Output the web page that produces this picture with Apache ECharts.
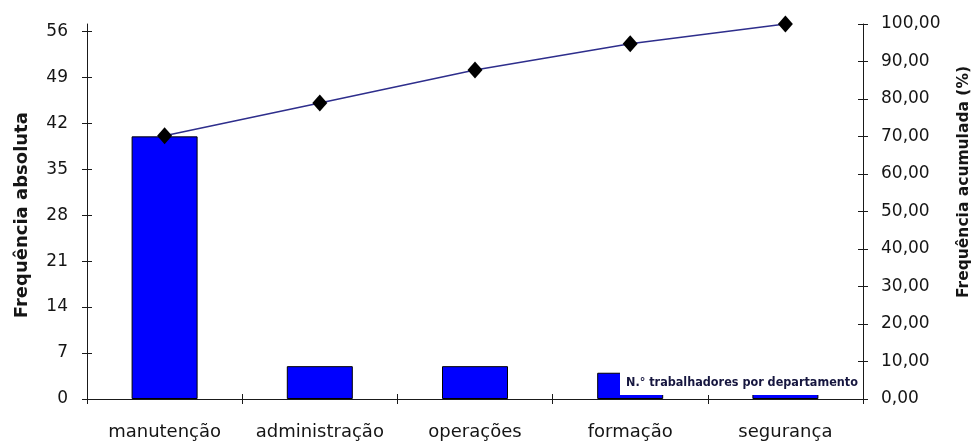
<!DOCTYPE html>
<html>
<head>
<meta charset="utf-8">
<script src="https://cdn.jsdelivr.net/npm/echarts@6/dist/echarts.min.js"></script>
<style>
  html, body { margin: 0; padding: 0; background: #ffffff; }
  #chart { width: 977px; height: 441px; }
</style>
</head>
<body>
<div id="chart"></div>
<script>
// Departments and head counts (Pareto ordering)
const categories = ['manutenção', 'administração', 'operações', 'formação', 'segurança'];
const workers = [40, 5, 5, 4, 3];
// Cumulative share of workers, in percent
const cumulativePct = [70.18, 78.95, 87.72, 94.74, 100.00];

// Axis scales
const countMax = 56, countStep = 7;
const pctMax = 100, pctStep = 10;

const barName = 'N.° trabalhadores por departamento';
const lineName = 'Frequência acumulada';

const FONT = 'DejaVu Sans';
const INK = '#151515';
const LINE = { color: '#1a1a1a', width: 1 };
const NO_LINE = { show: true, lineStyle: { color: 'rgba(0,0,0,0)', width: 0 } };

const chart = echarts.init(document.getElementById('chart'), null, { renderer: 'canvas' });

// Every grid shares the same horizontal extent and baseline
function box(top, bottom) {
  return { left: 87, right: 114, top: top, bottom: bottom === undefined ? 42 : bottom,
           containLabel: false, outerBoundsMode: 'none' };
}
// Hidden category axis, used to place marks or to anchor a y axis
function hiddenX(grid) {
  return { type: 'category', gridIndex: grid, data: categories, show: false };
}
const none = { show: false };

chart.setOption({
  animation: false,
  backgroundColor: '#ffffff',
  grid: [
    box(31.3),        // 0: counts, outward ticks + labels
    box(31.3),        // 1: counts, inward ticks (ticks cross the axis)
    box(24),          // 2: percent, outward ticks + labels
    box(24),          // 3: percent, inward ticks, full-height left spine
    box(24, 101)      // 4: holder for the right-hand title
  ],
  legend: {
    data: [barName],
    left: 620,
    top: 370,
    itemWidth: 0,
    itemHeight: 0,
    selectedMode: false,
    backgroundColor: '#ffffff',
    padding: [6, 3, 6, 0],
    textStyle: { fontFamily: 'DejaVu Sans Condensed', fontWeight: 'bold', fontSize: 12.5, color: '#16163f' }
  },
  xAxis: [
    {
      type: 'category', gridIndex: 0, data: categories, position: 'bottom',
      axisLine: { show: true, lineStyle: LINE },
      axisTick: { show: true, interval: 0, length: 5, lineStyle: LINE },
      axisLabel: { interval: 0, margin: 24, fontFamily: FONT, fontSize: 18, color: INK }
    },
    {
      type: 'category', gridIndex: 1, data: categories, position: 'bottom',
      axisLine: NO_LINE,
      axisTick: { show: true, inside: true, interval: 0, length: 5, lineStyle: LINE },
      axisLabel: none
    },
    hiddenX(2),
    hiddenX(3),
    hiddenX(4)
  ],
  yAxis: [
    {
      type: 'value', gridIndex: 0, position: 'left',
      min: 0, max: countMax, interval: countStep,
      splitLine: none,
      axisLine: { show: true, lineStyle: LINE },
      axisTick: { show: true, length: 5, lineStyle: LINE },
      axisLabel: { margin: 19, fontFamily: FONT, fontSize: 17, color: INK },
      name: 'Frequência absoluta',
      nameLocation: 'middle',
      nameRotate: 90,
      nameGap: 56,
      nameTextStyle: { fontFamily: FONT, fontWeight: 'bold', fontSize: 18, color: INK }
    },
    {
      type: 'value', gridIndex: 1, position: 'left',
      min: 0, max: countMax, interval: countStep,
      splitLine: none,
      axisLine: NO_LINE,
      axisTick: { show: true, inside: true, length: 5, lineStyle: LINE },
      axisLabel: none
    },
    {
      type: 'value', gridIndex: 2, position: 'right',
      min: 0, max: pctMax, interval: pctStep,
      splitLine: none,
      axisLine: { show: true, lineStyle: LINE },
      axisTick: { show: true, length: 5, lineStyle: LINE },
      axisLabel: {
        margin: 18, fontFamily: FONT, fontSize: 17, color: INK,
        formatter: v => v.toFixed(2).replace('.', ',')
      }
    },
    {
      type: 'value', gridIndex: 3, position: 'right',
      min: 0, max: pctMax, interval: pctStep,
      splitLine: none,
      axisLine: NO_LINE,
      axisTick: { show: true, inside: true, length: 5, lineStyle: LINE },
      axisLabel: none
    },
    {
      // left spine running the full plot height
      type: 'value', gridIndex: 3, position: 'left', min: 0, max: 1,
      splitLine: none,
      axisLine: { show: true, lineStyle: LINE },
      axisTick: none,
      axisLabel: none
    },
    {
      type: 'value', gridIndex: 4, position: 'right', min: 0, max: 1,
      splitLine: none, axisLine: none, axisTick: none, axisLabel: none,
      name: 'Frequência acumulada (%)',
      nameLocation: 'middle',
      nameRotate: 90,
      nameGap: 93,
      nameTextStyle: { fontFamily: FONT, fontWeight: 'bold', fontSize: 15.5, color: INK }
    }
  ],
  series: [
    {
      name: barName,
      type: 'bar',
      xAxisIndex: 0,
      yAxisIndex: 0,
      data: workers,
      barWidth: 66,
      itemStyle: { color: '#0000ff', borderColor: '#000000', borderWidth: 1 },
      z: 2
    },
    {
      name: lineName,
      type: 'line',
      xAxisIndex: 2,
      yAxisIndex: 2,
      data: cumulativePct,
      symbol: 'diamond',
      symbolSize: [15, 17],
      itemStyle: { color: '#000000' },
      lineStyle: { color: '#2e2e8c', width: 1.5 },
      z: 3
    }
  ]
});
</script>
</body>
</html>
